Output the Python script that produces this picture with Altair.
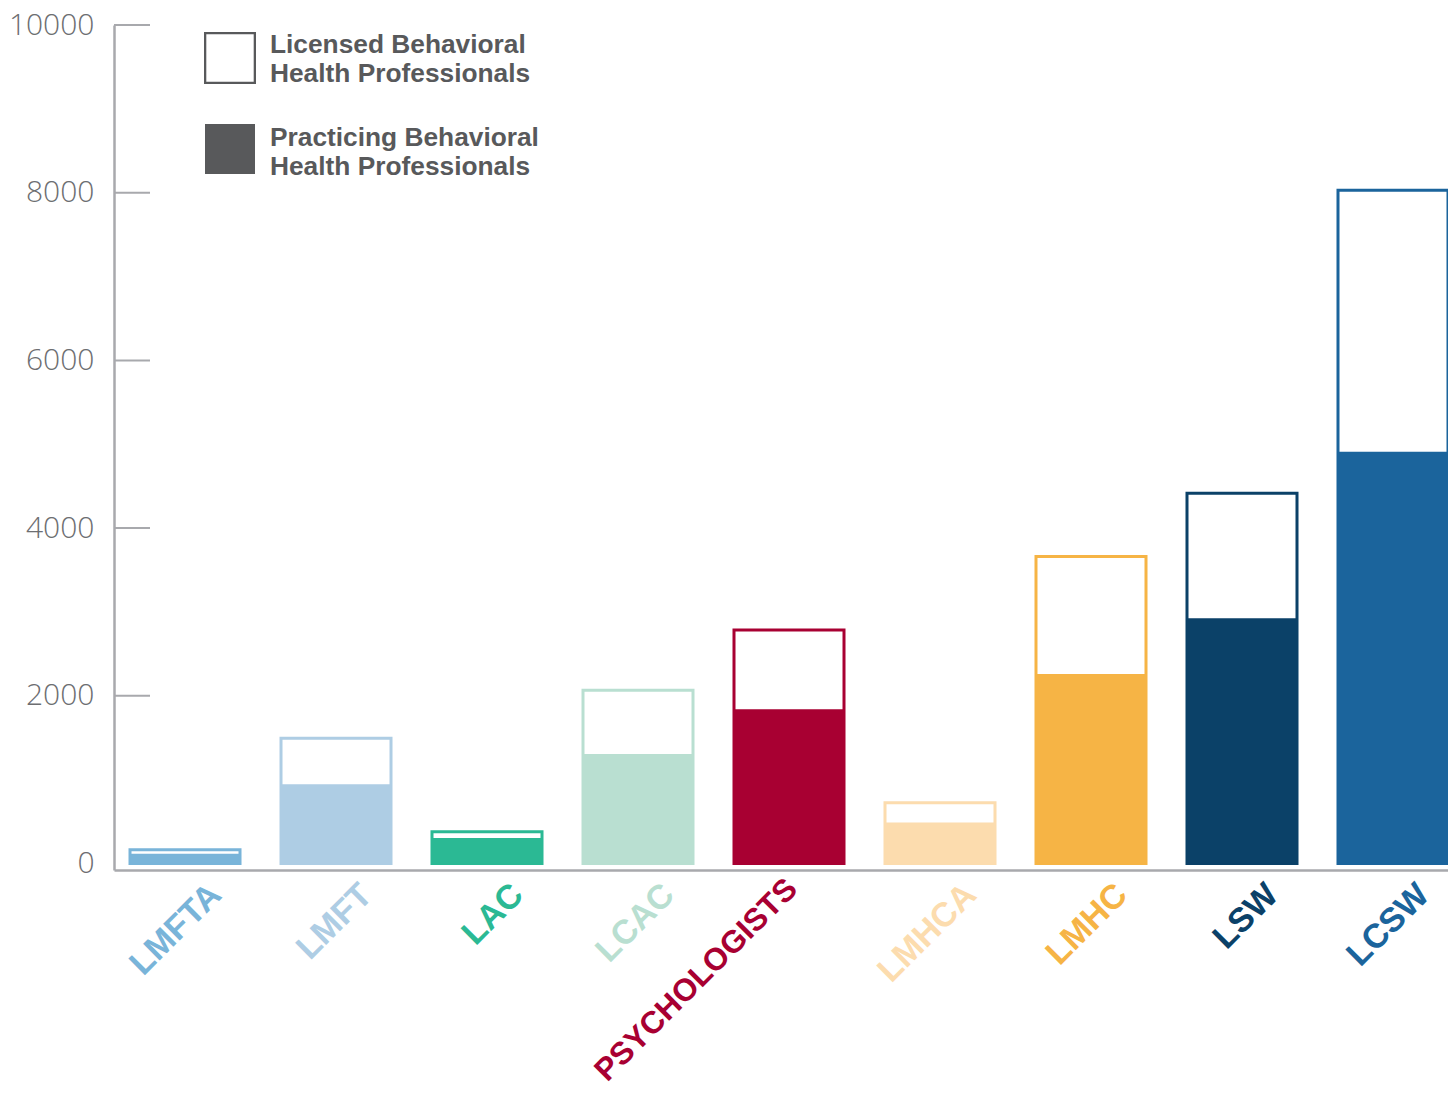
import altair as alt
import pandas as pd

categories = ["LMFTA", "LMFT", "LAC", "LCAC", "PSYCHOLOGISTS", "LMHCA", "LMHC", "LSW", "LCSW"]
licensed = [165, 1495, 380, 2065, 2785, 725, 3660, 4415, 8030]
practicing = [115, 945, 305, 1305, 1840, 490, 2260, 2925, 4910]
colors = ["#79b4d9", "#aecde4", "#2bb994", "#b9dfd1", "#a80032",
          "#fcdcae", "#f6b445", "#0b4168", "#1b649c"]
y_ticks = [0, 2000, 4000, 6000, 8000, 10000]
legend_labels = ["Licensed Behavioral\nHealth Professionals",
                 "Practicing Behavioral\nHealth Professionals"]

df = pd.DataFrame({"category": categories, "licensed": licensed, "practicing": practicing})
ticks_df = pd.DataFrame({"v": y_ticks[1:]})

AXIS_GRAY = "#a8a9ad"
TEXT_GRAY = "#58595b"
LABEL_GRAY = "#6d6e71"

xscale = alt.Scale(domain=categories, paddingInner=0.2715, paddingOuter=0.053, align=1)
xaxis = alt.Axis(labels=False, ticks=False, title=None, domainColor=AXIS_GRAY, domainWidth=2.5, grid=False)
xenc = alt.X("category:N", sort=categories, scale=xscale, axis=xaxis)

yscale = alt.Scale(domain=[-77.5, 10000], nice=False, zero=False)
yaxis = alt.Axis(values=y_ticks, ticks=False, tickSize=0, labelPadding=20, grid=False,
                 domainColor=AXIS_GRAY, domainWidth=2.5, title=None,
                 labelFont="Open Sans", labelFontWeight=300, labelFontSize=30,
                 labelColor=LABEL_GRAY, format="d")

fill_scale = alt.Scale(domain=categories, range=colors)

base = alt.Chart(df)

tick_rules = alt.Chart(ticks_df).mark_rule(color=AXIS_GRAY, strokeWidth=2).encode(
    y=alt.Y("v:Q", scale=yscale, axis=yaxis),
    x=alt.value(0), x2=alt.value(36),
)

outline = base.mark_bar(fill="white", strokeWidth=3).encode(
    x=xenc,
    y=alt.Y("licensed:Q", scale=yscale, axis=yaxis),
    y2=alt.datum(0),
    stroke=alt.Stroke("category:N", scale=fill_scale, legend=None),
)

filled = base.mark_bar(strokeWidth=0).encode(
    x=xenc,
    y=alt.Y("practicing:Q", scale=yscale, axis=yaxis),
    y2=alt.datum(0),
    fill=alt.Fill("category:N", scale=fill_scale, legend=None),
)

label_props = dict(angle=315, align="right", baseline="alphabetic",
                   font="Liberation Sans", fontWeight="bold")

labels_main = base.mark_text(xOffset=38, fontSize=34, **label_props).encode(
    x=xenc, y=alt.value(872), text="category:N",
    fill=alt.Fill("category:N", scale=fill_scale, legend=None),
).transform_filter(alt.datum.category != "PSYCHOLOGISTS")

labels_psy = base.mark_text(xOffset=10, fontSize=31.5, **label_props).encode(
    x=xenc, y=alt.value(866), text="category:N",
    fill=alt.Fill("category:N", scale=fill_scale, legend=None),
).transform_filter(alt.datum.category == "PSYCHOLOGISTS")

leg_df0 = pd.DataFrame({"label": [legend_labels[0]]})
leg_df1 = pd.DataFrame({"label": [legend_labels[1]]})

leg_sq0 = alt.Chart(leg_df0).mark_square(fill="white", stroke=TEXT_GRAY, strokeWidth=2.3,
                                         size=2470, opacity=1).encode(
    x=alt.value(116), y=alt.value(33))
leg_sq1 = alt.Chart(leg_df1).mark_square(fill=TEXT_GRAY, size=2500, opacity=1).encode(
    x=alt.value(116), y=alt.value(124))

text_props = dict(align="left", baseline="alphabetic", lineBreak="\n", lineHeight=29.6,
                  font="Liberation Sans", fontWeight="bold", fontSize=26.3, color=TEXT_GRAY)
leg_tx0 = alt.Chart(leg_df0).mark_text(**text_props).encode(
    x=alt.value(156), y=alt.value(27.7), text="label:N")
leg_tx1 = alt.Chart(leg_df1).mark_text(**text_props).encode(
    x=alt.value(156), y=alt.value(120.5), text="label:N")

chart = alt.layer(
    tick_rules, outline, filled, labels_main, labels_psy,
    leg_sq0, leg_sq1, leg_tx0, leg_tx1,
).properties(
    width=1334, height=845,
    autosize=alt.AutoSizeParams(type="none"),
    padding={"left": 106, "top": 17, "right": 0, "bottom": 222},
    background="white",
).configure_view(stroke=None)

chart.save("out.html", embed_options={"renderer": "svg", "actions": False})
